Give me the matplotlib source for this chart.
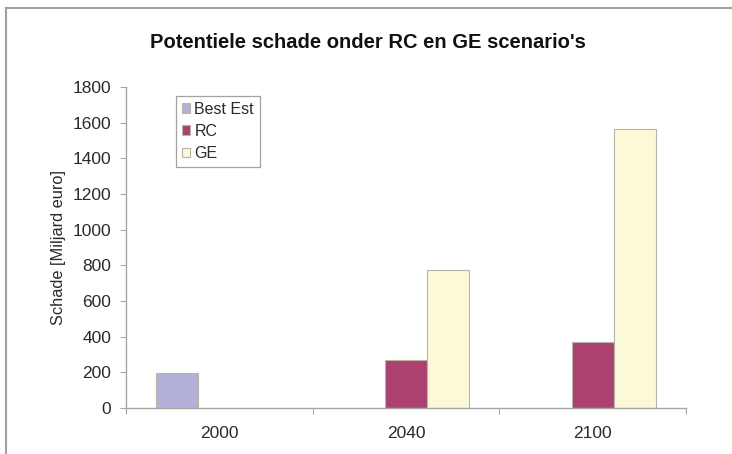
import numpy as np
import matplotlib
matplotlib.use("Agg")
from matplotlib import pyplot as plt
from matplotlib.lines import Line2D

plt.rcParams['font.family'] = ['Liberation Sans', 'DejaVu Sans']

# data
years = ["2000", "2040", "2100"]
best_est = [195, 0, 0]
rc = [0, 270, 370]
ge = [0, 775, 1565]
series_names = ["Best Est", "RC", "GE"]
series_colors = ["#b3b1d9", "#ac416f", "#fcf9d8"]
yticks = np.arange(0, 1801, 200)

axis_grey = "#a6a6a6"
txt = "#2a2a2a"
fs = 11.5
tick_fs = 12.5

fig = plt.figure(figsize=(7.32, 4.54), dpi=100)
ax = fig.add_axes([126 / 732, 46 / 454, 560 / 732, 321 / 454])

x = np.arange(len(years))
w = 0.225
for k, (vals, name, col) in enumerate(zip([best_est, rc, ge], series_names, series_colors)):
    xs = [xi + (k - 1) * w for xi, v in zip(x, vals) if v > 0]
    vs = [v for v in vals if v > 0]
    ax.bar(xs, vs, width=w, color=col, edgecolor="#b8b4a8", linewidth=0.8, label=name)

ax.set_xlim(-0.5, len(years) - 0.5)
ax.set_ylim(0, 1800)
ax.set_yticks(yticks)
ax.set_yticklabels([str(t) for t in yticks], fontsize=tick_fs, color=txt)

# x ticks at the category boundaries, labels centred
ax.set_xticks(np.arange(-0.5, len(years), 1.0))
ax.set_xticklabels([])
ax.set_xticks(x, minor=True)
ax.set_xticklabels(years, minor=True, fontsize=tick_fs, color=txt)
ax.tick_params(axis="x", which="minor", length=0, pad=13)
ax.tick_params(axis="x", which="major", length=4, color=axis_grey, direction="out")
ax.tick_params(axis="y", length=4, color=axis_grey, direction="out", pad=6.5)

for s in ["top", "right"]:
    ax.spines[s].set_visible(False)
for s in ["left", "bottom"]:
    ax.spines[s].set_color(axis_grey)
    ax.spines[s].set_linewidth(1.0)

ax.set_ylabel("Schade [Miljard euro]", fontsize=11.8, color=txt, labelpad=5)

fig.text(368 / 732, 1 - 43 / 454, "Potentiele schade onder RC en GE scenario's",
         ha="center", va="center", fontsize=14.5, fontweight="bold", color="#111111")

leg = ax.legend(loc="upper left", bbox_to_anchor=(50 / 560, 1 - 9 / 321), fontsize=fs,
                frameon=True, fancybox=False, borderpad=0.35, handlelength=0.55,
                handleheight=0.55, handletextpad=0.25, labelspacing=0.45, borderaxespad=0)
leg.get_frame().set_edgecolor("#8c8c8c")
leg.get_frame().set_linewidth(0.9)
for t in leg.get_texts():
    t.set_color(txt)

# outer frame lines (top and left) as in the reference
fig.add_artist(Line2D([6 / 732, 1.0], [1 - 8 / 454, 1 - 8 / 454], color="#a0a0a0", linewidth=1.5))
fig.add_artist(Line2D([6 / 732, 6 / 732], [0.0, 1 - 8 / 454], color="#a0a0a0", linewidth=1.5))

fig.savefig("out.png", dpi=100)
